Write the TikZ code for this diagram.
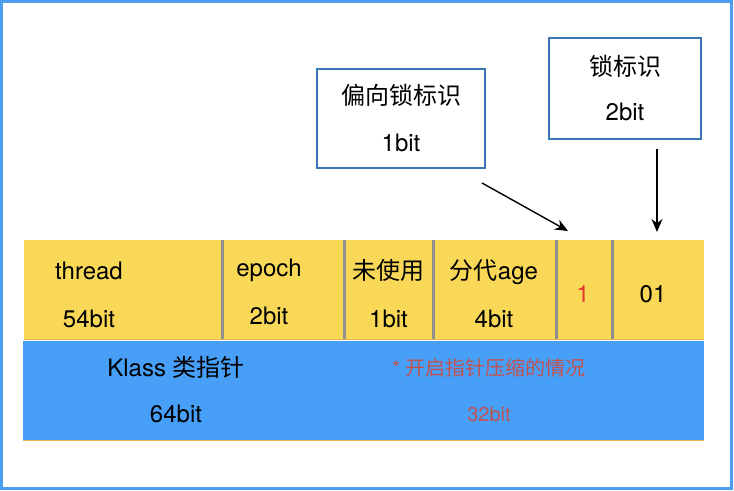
\documentclass[tikz,border=0pt]{standalone}
\usepackage{fontspec}
\setmainfont{TeX Gyre Heros}
\newfontfamily\cjk{Noto Sans CJK SC}
\usepackage{xcolor}
\usetikzlibrary{arrows.meta,positioning,calc}

\definecolor{markyellow}{RGB}{249,216,88}
\definecolor{klassblue}{RGB}{71,159,248}
\definecolor{frameblue}{RGB}{77,158,240}
\definecolor{tagblue}{RGB}{58,117,182}
\definecolor{dividergray}{RGB}{144,144,144}
\definecolor{edgeorange}{RGB}{236,178,84}
\definecolor{markred}{RGB}{226,60,49}
\definecolor{notered}{RGB}{192,82,80}

\begin{document}
\begin{tikzpicture}[
    x=0.5pt, y=-0.5pt,
    every node/.style={font=\fontsize{12}{24}\selectfont, align=center, text=black},
    cell/.style={rectangle, fill=markyellow, inner sep=0pt, outer sep=0pt, minimum height=50pt, anchor=north west},
    klassbar/.style={rectangle, fill=klassblue, inner sep=0pt, outer sep=0pt, minimum width=340.5pt, minimum height=50pt, anchor=north west},
    tag/.style={rectangle, draw=tagblue, line width=1pt, inner sep=0pt},
    divider/.style={draw=dividergray, line width=1.5pt},
    edge/.style={draw=edgeorange, line width=0.5pt},
    frame/.style={draw=frameblue, line width=1.25pt},
    arrow/.style={-{Stealth[length=6.5pt, width=5.5pt]}, line width=0.7pt}
]
    \useasboundingbox (0,0) rectangle (734,491);
    \draw[frame] (1.5,1.5) rectangle (731.5,488.5);

    % Mark word cells
    \node[cell, minimum width=98.5pt] (thread) at (24,240) {};
    \node[cell, minimum width=60pt, right=1pt of thread] (epoch) {};
    \node[cell, minimum width=43.5pt, right=1pt of epoch] (unused) {};
    \node[cell, minimum width=60.5pt, right=1pt of unused] (age) {};
    \node[cell, minimum width=27pt, right=1pt of age] (biased) {};
    \node[cell, minimum width=45.5pt, right=1pt of biased] (lock) {};
    \foreach \a/\b in {thread/epoch, epoch/unused, unused/age, age/biased, biased/lock}
        \draw[divider] ($(\a.north east)!.5!(\b.north west)$) -- ($(\a.south east)!.5!(\b.south west)$);

    % Klass pointer
    \node[klassbar] (klass) at (23,341) {};
    \draw[edge] (thread.south west) -- (lock.south east);
    \draw[edge] (klass.south west) -- (klass.south east);

    % Cell texts
    \node (threadtxt) at (89,295) {thread\\54bit};
    \node (epochtxt) at (269,292) {epoch\\2bit};
    \node (unusedtxt) at (388.5,294) {{\cjk 未使用}\\1bit};
    \node (agetxt) at (494,294) {{\cjk 分代}age\\4bit};
    \node[text=markred] (biasedtxt) at (583,294) {1};
    \node (locktxt) at (653,294) {01};
    \node (klasstxt) at (176,390) {Klass {\cjk 类指针}\\[-1pt]64bit};
    \node[text=notered, font=\fontsize{10}{23}\selectfont] (compresstxt) at (489,390.5) {* {\cjk 开启指针压缩的情况}\\32bit};

    % Tags
    \node[tag, minimum width=84pt, minimum height=49.5pt] (biastag) at (401,118.5) {{\cjk 偏向锁标识}\\[-0.5pt]1bit};
    \node[tag, minimum width=76pt, minimum height=50.5pt] (locktag) at (625,88.5) {{\cjk 锁标识}\\[-1.5pt]2bit};

    % Arrows
    \coordinate (biasfrom) at ($(biastag.south east)+(-4,14)$);
    \coordinate (biasto) at ($(biased.north)+(-16,-9)$);
    \coordinate (lockfrom) at ($(locktag.south)+(32,9)$);
    \coordinate (lockto) at ($(lock.north)+(-1.5,-8)$);
    \draw[arrow] (biasfrom) -- (biasto);
    \draw[arrow] (lockfrom) -- (lockto);
\end{tikzpicture}
\end{document}
